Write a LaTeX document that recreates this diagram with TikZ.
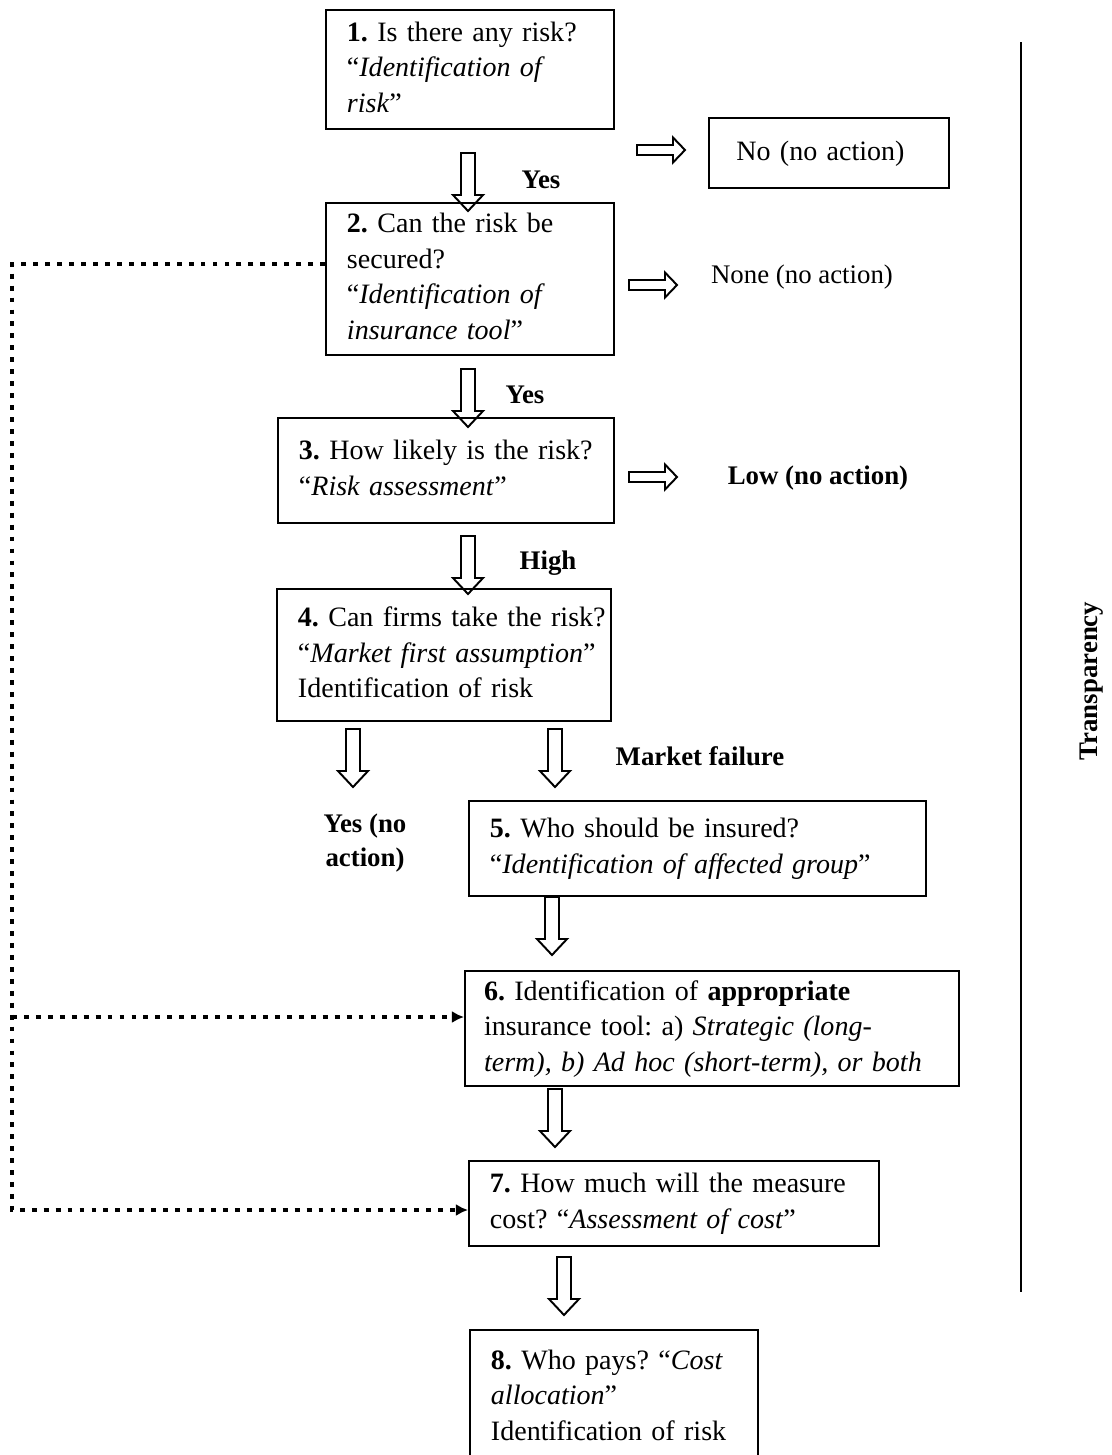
\documentclass[tikz,border=0pt]{standalone}
\usepackage{fontspec}
\setmainfont{Liberation Serif}
\usetikzlibrary{arrows.meta}
\frenchspacing
\newcommand{\qlines}[1]{\begin{tabular}{@{}l@{}}#1\end{tabular}}

\tikzset{
  qbox/.style 2 args={draw, line width=0.8pt, anchor=north west, align=left,
    inner xsep=8.6pt, inner ysep=1pt, minimum width=#1, minimum height=#2,
    text width=#1-17.2pt, font=\fontsize{11.5}{14.6}\selectfont},
  lbl/.style={font=\fontsize{11}{14.3}\selectfont\bfseries},
  dotline/.style={line width=2pt, dash pattern=on 2pt off 2.9pt,
    -{Latex[length=5pt,width=5pt]}},
  downarr/.pic={
    \draw[line width=0.8pt] (-7,0) -- (7,0) -- (7,42) -- (15,42) -- (0,58)
      -- (-15,42) -- (-7,42) -- cycle;},
  rightarr/.pic={
    \draw[line width=0.8pt] (0,-5) -- (36,-5) -- (36,-12.5) -- (48,0)
      -- (36,12.5) -- (36,5) -- (0,5) -- cycle;}
}

\begin{document}
\begin{tikzpicture}[x=0.41pt,y=-0.41pt,font=\fontsize{11}{14.3}\selectfont]
  \useasboundingbox (0,0) rectangle (1112,1455);

  % question boxes
  \node[qbox={118.1pt}{48.8pt}] (q1) at (325,9)
    {\qlines{\textbf{1.} Is there any risk?\\“\textit{Identification of}\\\textit{risk}”}};
  \node[qbox={98.4pt}{28.7pt}, inner xsep=11pt, text width=76pt] (no1) at (708,117)
    {\qlines{No (no action)}};
  \node[qbox={118.1pt}{62.3pt}] (q2) at (325,202)
    {\qlines{\textbf{2.} Can the risk be\\secured?\\“\textit{Identification of}\\\textit{insurance tool}”}};
  \node[qbox={137.8pt}{43pt}] (q3) at (277,417)
    {\qlines{\textbf{3.} How likely is the risk?\\“\textit{Risk assessment}”}};
  \node[qbox={137pt}{54.1pt}] (q4) at (276,588)
    {\qlines{\textbf{4.} Can firms take the risk?\\“\textit{Market first assumption}”\\Identification of risk}};
  \node[qbox={187.4pt}{39pt}] (q5) at (468,800)
    {\qlines{\textbf{5.} Who should be insured?\\“\textit{Identification of affected group}”}};
  \node[qbox={202.5pt}{47.2pt}, inner xsep=7.8pt, text width=186.9pt] (q6) at (464,970)
    {\qlines{\textbf{6.} Identification of \textbf{appropriate}\\insurance tool: a) \textit{Strategic (long-}\\\textit{term), b) Ad hoc (short-term), or both}}};
  \node[qbox={168.1pt}{34.9pt}] (q7) at (468,1160)
    {\qlines{\textbf{7.} How much will the measure\\cost? “\textit{Assessment of cost}”}};
  \node[qbox={118.1pt}{55.5pt}] (q8) at (469,1329)
    {\qlines{\textbf{8.} Who pays? “\textit{Cost}\\\textit{allocation}”\\Identification of risk}};

  % answers
  \node[lbl] (y1) at (541,180) {Yes};
  \node[lbl] (y2) at (525,395) {Yes};
  \node[lbl] (hi) at (548,563) {High};
  \node[lbl] (mf) at (700,756) {Market failure};
  \node[lbl, align=center] (y4) at (365,843) {Yes (no\\action)};
  \node (no2) at (802,277) {None (no action)};
  \node[lbl] (lo) at (818,478) {Low (no action)};

  % block arrows
  \pic (a1) at (468,153) {downarr};
  \pic (a2) at (468,369) {downarr};
  \pic (a3) at (468,536) {downarr};
  \pic (a4) at (353,729) {downarr};
  \pic (a5) at (555,729) {downarr};
  \pic (a6) at (552,897) {downarr};
  \pic (a7) at (555,1089) {downarr};
  \pic (a8) at (564,1257) {downarr};
  \pic (r1) at (637,150) {rightarr};
  \pic (r2) at (629,285) {rightarr};
  \pic (r3) at (629,477) {rightarr};

  % dotted links
  \coordinate (d1) at (12,1017);
  \draw[dotline] (q2.west |- 0,264) -| (12,1210) -- (q7.west |- 0,1210);
  \draw[dotline] (d1) -- (q6.west |- d1);

  % transparency
  \coordinate (t0) at (1021,42);
  \coordinate (t1) at (1021,1292);
  \draw[line width=0.8pt] (t0) -- (t1);
  \node[lbl, rotate=90] (tr) at (1092,681) {Transparency};
\end{tikzpicture}
\end{document}
